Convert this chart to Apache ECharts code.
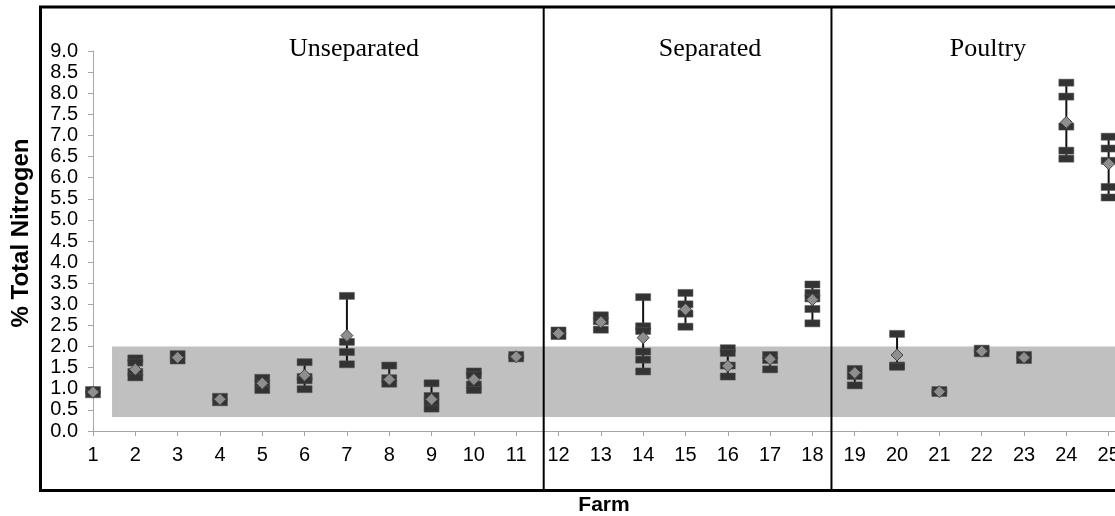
<!DOCTYPE html>
<html><head><meta charset="utf-8">
<script src="https://cdn.jsdelivr.net/npm/echarts@6/dist/echarts.min.js"></script>
<style>html,body{margin:0;padding:0;background:#fff}#c{width:1115px;height:516px}</style>
</head><body><div id="c"></div>
<script>
// ---- data ----
const farms = [1,2,3,4,5,6,7,8,9,10,11,12,13,14,15,16,17,18,19,20,21,22,23,24,25];
const samples = [
  [0.97, 0.87],
  [1.72, 1.62, 1.40, 1.27],
  [1.82, 1.67],
  [0.81, 0.68],
  [1.26, 1.12, 0.97],
  [1.63, 1.28, 1.20, 0.99],
  [3.20, 2.11, 1.87, 1.58],
  [1.55, 1.25, 1.12],
  [1.13, 0.83, 0.68, 0.53],
  [1.41, 1.32, 1.10, 0.97],
  [1.80, 1.72],
  [2.38, 2.25],
  [2.74, 2.60, 2.40],
  [3.17, 2.48, 2.37, 1.88, 1.69, 1.41],
  [3.27, 3.00, 2.78, 2.47],
  [1.96, 1.85, 1.55, 1.29],
  [1.80, 1.68, 1.46],
  [3.47, 3.27, 3.14, 2.89, 2.55],
  [1.47, 1.30, 1.08],
  [2.30, 1.55, 1.52],
  [0.97, 0.90],
  [1.95, 1.84],
  [1.80, 1.68],
  [8.25, 7.92, 7.21, 6.64, 6.45],
  [6.97, 6.69, 6.40, 5.78, 5.53]
];
const means = [0.92,1.46,1.74,0.75,1.13,1.32,2.26,1.22,0.75,1.22,1.76,2.31,2.58,2.21,2.88,1.54,1.70,3.11,1.38,1.80,0.93,1.89,1.74,7.31,6.33];
const bandY = [0.33, 2.0];
const bandX = [1.45, 25.15];
const groupNames = ['Unseparated', 'Separated', 'Poultry'];
const groupDividers = [11.65, 18.45];
const yTicks = [0,0.5,1,1.5,2,2.5,3,3.5,4,4.5,5,5.5,6,6.5,7,7.5,8,8.5,9];

// ---- build series data ----
const dashData = [];
farms.forEach((f, i) => samples[i].forEach(v => dashData.push([f, v])));
const rangeData = farms.map((f, i) => [f, Math.min(...samples[i]), Math.max(...samples[i])]);
const meanData = farms.map((f, i) => [f, means[i]]);

const chart = echarts.init(document.getElementById('c'));
chart.setOption({
  animation: false,
  backgroundColor: '#fff',
  grid: { left: 93, right: 0, top: 51, bottom: 85, containLabel: false, outerBoundsMode: 'none' },
  xAxis: {
    type: 'value', min: 1, max: 25.15, interval: 1,
    name: 'Farm', nameLocation: 'middle', nameGap: 64,
    nameTextStyle: { fontFamily: 'Liberation Sans', fontWeight: 'bold', fontSize: 21, color: '#000' },
    axisLine: { show: true, lineStyle: { color: '#a6a6a6', width: 1 } },
    axisTick: { show: true, length: 5, lineStyle: { color: '#a6a6a6' } },
    axisLabel: { margin: 14, fontFamily: 'Liberation Sans', fontSize: 20, color: '#000',
      formatter: v => Number.isInteger(v) ? String(v) : '' },
    splitLine: { show: false }
  },
  yAxis: {
    type: 'value', min: yTicks[0], max: yTicks[yTicks.length - 1], interval: 0.5,
    axisLine: { show: true, lineStyle: { color: '#a6a6a6', width: 1 } },
    axisTick: { show: true, length: 5, lineStyle: { color: '#a6a6a6' } },
    axisLabel: { margin: 15, fontFamily: 'Liberation Sans', fontSize: 20, color: '#000',
      formatter: v => v.toFixed(1) },
    splitLine: { show: false }
  },
  series: [
    {
      type: 'scatter', data: [], z: 1, silent: true,
      markArea: { silent: true, itemStyle: { color: '#c0c0c0', opacity: 1 },
        data: [[{ coord: [bandX[0], bandY[0]] }, { coord: [bandX[1], bandY[1]] }]] }
    },
    {
      type: 'custom', z: 2, data: rangeData, silent: true,
      renderItem: (params, api) => {
        const p1 = api.coord([api.value(0), api.value(1)]);
        const p2 = api.coord([api.value(0), api.value(2)]);
        return { type: 'line', shape: { x1: p1[0], y1: p1[1], x2: p2[0], y2: p2[1] },
          style: { stroke: '#111', lineWidth: 2 } };
      }
    },
    {
      type: 'scatter', z: 3, data: dashData, symbol: 'rect', symbolSize: [15, 7],
      itemStyle: { color: '#333', borderColor: '#555', borderWidth: 0.5, opacity: 1 }
    },
    {
      type: 'scatter', z: 4, data: meanData, symbol: 'diamond', symbolSize: 12,
      itemStyle: { color: '#8e8e8e', borderColor: '#444', borderWidth: 1, opacity: 1 }
    }
  ]
});

const d1 = chart.convertToPixel({ xAxisIndex: 0 }, groupDividers[0]);
const d2 = chart.convertToPixel({ xAxisIndex: 0 }, groupDividers[1]);
const textStyle = { fontFamily: 'Liberation Serif', fontSize: 26, fill: '#000', align: 'center', verticalAlign: 'middle' };
chart.setOption({
  graphic: [
    { type: 'rect', z: 100, silent: true, shape: { x: 40.5, y: 7, width: 1100, height: 483.5 },
      style: { fill: 'none', stroke: '#000', lineWidth: 3 } },
    { type: 'line', z: 100, silent: true, shape: { x1: d1, y1: 8, x2: d1, y2: 490 }, style: { stroke: '#000', lineWidth: 2 } },
    { type: 'line', z: 100, silent: true, shape: { x1: d2, y1: 8, x2: d2, y2: 490 }, style: { stroke: '#000', lineWidth: 2 } },
    { type: 'text', z: 100, x: 354, y: 49, style: Object.assign({ text: groupNames[0] }, textStyle) },
    { type: 'text', z: 100, x: 710, y: 49, style: Object.assign({ text: groupNames[1] }, textStyle) },
    { type: 'text', z: 100, x: 988, y: 49, style: Object.assign({ text: groupNames[2] }, textStyle) },
    { type: 'text', z: 100, x: 21.5, y: 233, rotation: Math.PI / 2,
      style: { text: '% Total Nitrogen', fontFamily: 'Liberation Sans', fontWeight: 'bold', fontSize: 24,
        fill: '#000', align: 'center', verticalAlign: 'middle' } }
  ]
});
</script>
</body></html>
